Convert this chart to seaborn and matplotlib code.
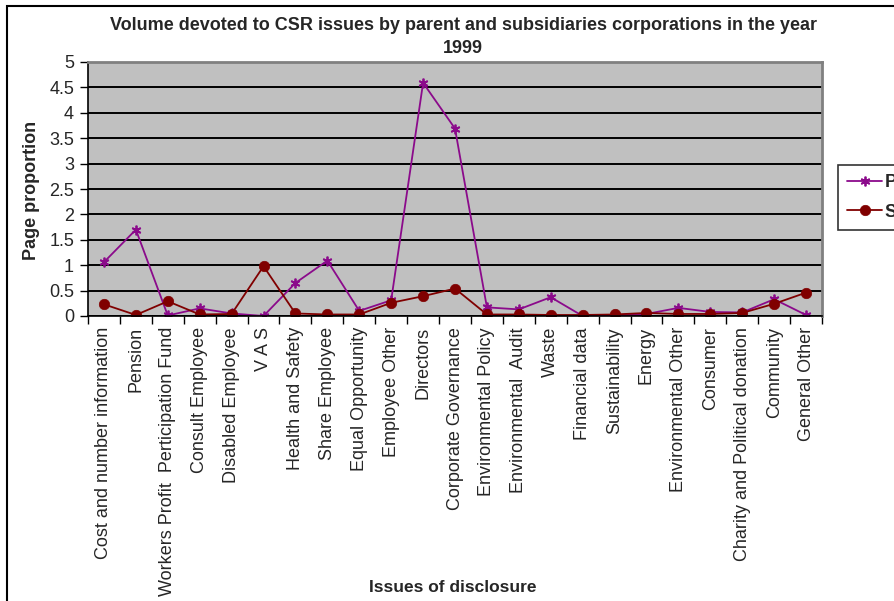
import matplotlib
matplotlib.use("Agg")
import matplotlib.pyplot as plt
from matplotlib.patches import Rectangle
import numpy as np
import pandas as pd
import seaborn as sns

categories = [
    "Cost and number information", "Pension", "Workers Profit  Perticipation Fund",
    "Consult Employee", "Disabled Employee", "V A S", "Health and Safety",
    "Share Employee", "Equal Opportunity", "Employee Other", "Directors",
    "Corporate Governance", "Environmental Policy", "Environmental  Audit", "Waste",
    "Financial data", "Sustainability", "Energy", "Environmental Other", "Consumer",
    "Charity and Political donation", "Community", "General Other",
]
parent = [1.06, 1.70, 0.01, 0.15, 0.05, 0.0, 0.65, 1.09, 0.10, 0.31, 4.59,
          3.69, 0.17, 0.13, 0.37, 0.0, 0.02, 0.04, 0.16, 0.08, 0.07, 0.33, 0.02]
subsidiaries = [0.23, 0.02, 0.29, 0.03, 0.04, 0.98, 0.05, 0.03, 0.03, 0.26, 0.39,
                0.54, 0.03, 0.03, 0.02, 0.02, 0.03, 0.06, 0.04, 0.04, 0.06, 0.24, 0.46]
series_names = ["Parent", "Subsidiaries"]
yticks = [0, 0.5, 1, 1.5, 2, 2.5, 3, 3.5, 4, 4.5, 5]

n = len(categories)
df = pd.DataFrame({
    "pos": list(range(n)) * 2,
    "value": parent + subsidiaries,
    "series": [series_names[0]] * n + [series_names[1]] * n,
})

sns.set_theme(style="white")
plt.rcParams["font.family"] = ["Liberation Sans", "DejaVu Sans"]

fig = plt.figure(figsize=(8.94, 6.01), dpi=100)
ax = fig.add_axes([88 / 894, 1 - 316 / 601, (822 - 88) / 894, (316 - 62) / 601])
ax.set_facecolor("#C0C0C0")

colors = {"Parent": "#8B0A8B", "Subsidiaries": "#800000"}
styles = {
    "Parent": dict(marker=(6, 2, 0), markersize=7, markeredgewidth=1.3),
    "Subsidiaries": dict(marker="o", markersize=7.5, markeredgewidth=0.5),
}
for name in series_names:
    sub = df[df["series"] == name]
    sns.lineplot(data=sub, x="pos", y="value", color=colors[name], sort=False,
                 legend=False, ax=ax, linewidth=1.3,
                 markeredgecolor=colors[name], markerfacecolor=colors[name],
                 **styles[name])

ax.set_ylim(0, 5)
ax.set_xlim(-0.5, n - 0.5)
ax.set_yticks(yticks)
ax.set_yticklabels([f"{v:g}" for v in yticks], fontsize=13)
ax.yaxis.grid(True, color="black", linewidth=1.4)
ax.set_axisbelow(True)

ax.set_xticks(np.arange(n + 1) - 0.5)
ax.set_xticklabels([])
ax.set_xticks(np.arange(n), minor=True)
ax.set_xticklabels(categories, minor=True, rotation=90, fontsize=13)
ax.tick_params(axis="x", which="major", direction="out", length=6, width=1,
               color="black", bottom=True)
ax.tick_params(axis="x", which="minor", length=0, pad=8)
ax.tick_params(axis="y", direction="out", length=6, width=1, color="black",
               left=True, pad=4)

for side in ("top", "right"):
    ax.spines[side].set_color("#808080")
    ax.spines[side].set_linewidth(2)
for side in ("left", "bottom"):
    ax.spines[side].set_color("black")
    ax.spines[side].set_linewidth(1.2)

ax.set_xlabel("")
ax.set_ylabel("")
fig.text(32 / 894, 1 - 190 / 601, "Page proportion", rotation=90, fontsize=13,
         fontweight="bold", ha="center", va="center")
fig.text(453 / 894, 1 - 587 / 601, "Issues of disclosure", fontsize=12.5,
         fontweight="bold", ha="center", va="center")
fig.text(463 / 894, 1 - 37 / 601,
         "Volume devoted to CSR issues by parent and subsidiaries corporations in the year\n1999",
         fontsize=13, fontweight="bold", ha="center", va="center", linespacing=1.45)

handles = ax.get_lines()[:2]
leg = fig.legend(handles, series_names, loc="upper left",
                 bbox_to_anchor=(838 / 894, 1 - 165 / 601), borderaxespad=0,
                 frameon=True, fancybox=False, fontsize=13, handlelength=1.95,
                 borderpad=0.5, labelspacing=0.7, handletextpad=0.15)
leg.get_frame().set_edgecolor("black")
leg.get_frame().set_linewidth(1.2)
for t in leg.get_texts():
    t.set_fontweight("bold")

fig.patches.append(Rectangle((7 / 894, -0.2), 2.0, 1.2 - 6 / 601,
                             transform=fig.transFigure, fill=False,
                             edgecolor="black", linewidth=1.5))

fig.savefig("out.png", dpi=100)
